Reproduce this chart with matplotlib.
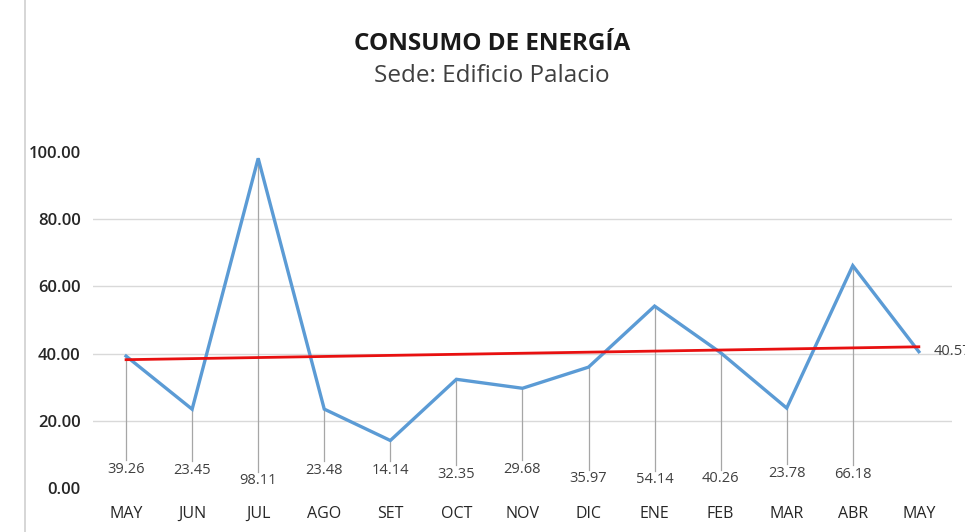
import numpy as np
import matplotlib
matplotlib.use("Agg")
import matplotlib.pyplot as plt
from matplotlib.lines import Line2D

months = ["MAY", "JUN", "JUL", "AGO", "SET", "OCT", "NOV", "DIC", "ENE", "FEB", "MAR", "ABR", "MAY"]
values = [39.26, 23.45, 98.11, 23.48, 14.14, 32.35, 29.68, 35.97, 54.14, 40.26, 23.78, 66.18, 40.57]
label_text = ["39.26", "23.45", "98.11", "23.48", "14.14", "32.35", "29.68", "35.97", "54.14", "40.26", "23.78", "66.18", "40.57"]
label_y = [5.6, 5.1, 2.1, 5.1, 5.1, 3.9, 5.4, 2.7, 2.4, 2.7, 4.2, 3.9]
yticks = [0, 20, 40, 60, 80, 100]

plt.rcParams['font.family'] = ['Open Sans', 'DejaVu Sans']

fig = plt.figure(figsize=(9.65, 5.32), dpi=100)
ax = fig.add_axes([0.0964, 0.0827, 0.89, 0.6316])

x = np.arange(len(months))
ax.plot(x, values, color="#5B9BD5", lw=2.4, zorder=3, solid_joinstyle="miter")

# trend line
coef = np.polyfit(x, values, 1)
ax.plot(x, np.polyval(coef, x), color="#E81010", lw=2.0, zorder=4)

# leader lines + labels
for i, ly in enumerate(label_y):
    ax.plot([x[i], x[i]], [values[i], ly + 2.8], color="#A6A6A6", lw=0.9, zorder=2)
    ax.text(x[i], ly, label_text[i], ha="center", va="center", fontsize=10.5, color="#404040")
ax.text(x[-1] + 0.22, values[-1], label_text[-1], ha="left", va="center", fontsize=10.5,
        color="#404040", clip_on=False)

ax.set_xlim(-0.5, 12.5)
ax.set_ylim(0, 100)
ax.set_yticks(yticks)
ax.set_yticklabels([f"{v:.2f}" for v in yticks], fontsize=12, fontweight="semibold", color="#262626")
ax.set_xticks(x)
ax.set_xticklabels(months, fontsize=11.5, color="#262626")
ax.tick_params(axis="both", length=0)
ax.tick_params(axis="y", pad=9)
ax.tick_params(axis="x", pad=13)
for s in ax.spines.values():
    s.set_visible(False)
for g in [20, 40, 60, 80]:
    ax.axhline(g, color="#D9D9D9", lw=1.0, zorder=1)

fig.text(0.51, 0.917, "CONSUMO DE ENERGÍA", ha="center", va="center", fontsize=17.5,
         fontweight="bold", color="#1a1a1a")
fig.text(0.51, 0.858, "Sede: Edificio Palacio", ha="center", va="center", fontsize=17.5,
         color="#404040")

fig.add_artist(Line2D([0.026, 0.026], [0, 1], transform=fig.transFigure, color="#D0D0D0", lw=1.2))

fig.savefig("out.png", dpi=100)
